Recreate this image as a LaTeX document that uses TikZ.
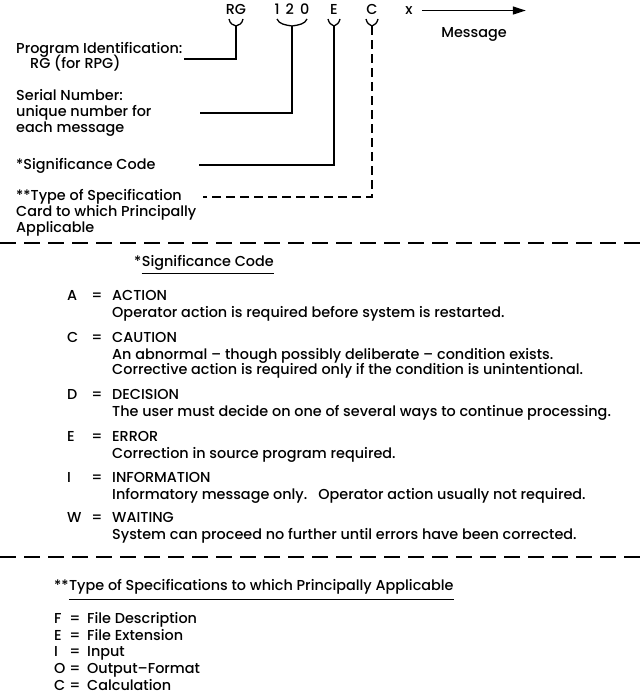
\documentclass[tikz,border=0pt]{standalone}
\usepackage{fontspec}
\setmainfont{Poppins}[UprightFont={* Medium}]
\usetikzlibrary{arrows.meta, positioning, calc}

\begin{document}
\begin{tikzpicture}[
    x=1pt, y=-1pt,
    txt/.style={inner sep=0pt, anchor=base west, font=\fontsize{14.4}{16}\selectfont},
    code/.style={inner sep=0pt, anchor=base, font=\fontsize{14.4}{16}\selectfont},
    conn/.style={line width=1.3pt},
    dconn/.style={line width=1.3pt, dash pattern=on 9pt off 5pt},
    sep/.style={line width=1.4pt, dash pattern=on 16pt off 8pt},
    arr/.style={-{Triangle[length=13pt, width=8pt]}, line width=1.3pt}
  ]
  \useasboundingbox (0,0) rectangle (642,696);

  % message code
  \node[code] (rg) at (236,14.5) {RG};
  \node[code] (num) at (292,14.5) {1\hspace{6pt}2\hspace{6pt}0};
  \node[code] (sig) at (334,14.5) {E};
  \node[code] (spec) at (372,14.5) {C};
  \node[code] (xmark) at (409,14.5) {x};
  \draw[arr] ([xshift=9pt]xmark.east) -- ++(104pt,0);
  \node[code] (msg) at (474,37) {Message};

  % braces under the code
  \draw[conn] (229,19) .. controls (230,24) and (233,25) .. (236,26) .. controls (239,25) and (242,24) .. (243,19);
  \draw[conn] (277,19) .. controls (279,24) and (285,25) .. (292,26) .. controls (299,25) and (305,24) .. (307,19);
  \draw[conn] (328,19) .. controls (329,23) and (331,25) .. (334,26) .. controls (337,25) and (339,23) .. (340,19);
  \draw[conn] (366,19) .. controls (367,23) and (369,25) .. (372,26) .. controls (375,25) and (377,23) .. (378,19);
  \coordinate (rgtip) at (236,26);
  \coordinate (numtip) at (292,26);
  \coordinate (sigtip) at (334,26);
  \coordinate (spectip) at (372,26);

  % labels
  \node[txt] (progid) at (16,53.5) {Program Identification:};
  \node[txt] (progrpg) at (30,68.5) {RG (for RPG)};
  \node[txt] (serial) at (16,100.5) {Serial Number:};
  \node[txt] (serial2) at (16,116.5) {unique number for};
  \node[txt] (serial3) at (16,132.5) {each message};
  \node[txt] (sigcode) at (16,169.5) {*Significance Code};
  \node[txt] (spectype) at (16,200.5) {**Type of Specification};
  \node[txt] (spectype2) at (16,216.5) {Card to which Principally};
  \node[txt] (spectype3) at (16,232.5) {Applicable};

  \coordinate (progend) at (184,59);
  \coordinate (serialend) at (200,113);
  \coordinate (sigend) at (199,165);
  \coordinate (specend) at (203,197);
  \draw[conn] (rgtip) |- (progend);
  \draw[conn] (numtip) |- (serialend);
  \draw[conn] (sigtip) |- (sigend);
  \draw[dconn] (spectip) |- (specend);

  \draw[sep] (0,243) -- (642,243);

  % significance codes
  \node[txt] (sigstar) at (134,266.5) {*};
  \node[txt] (sighead) at (sigstar.base east) {Significance Code};
  \draw[conn] ([yshift=-7pt]sighead.base west) -- ([yshift=-7pt]sighead.base east);

  \node[txt] (ka) at (67,300.5) {A};
  \node[code] at (97,300.5) {=};
  \node[txt] (ta) at (112,300.5) {ACTION};
  \node[txt] (da) at (112,317.5) {Operator action is required before system is restarted.};

  \node[txt] (kc) at (67,342.5) {C};
  \node[code] at (97,342.5) {=};
  \node[txt] (tc) at (112,342.5) {CAUTION};
  \node[txt] (dc) at (112,359.5) {An abnormal -- though possibly deliberate -- condition exists.};
  \node[txt] (dc2) at (112,374.5) {Corrective action is required only if the condition is unintentional.};

  \node[txt] (kd) at (67,399.5) {D};
  \node[code] at (97,399.5) {=};
  \node[txt] (td) at (112,399.5) {DECISION};
  \node[txt] (dd) at (112,416.5) {The user must decide on one of several ways to continue processing.};

  \node[txt] (ke) at (67,441.5) {E};
  \node[code] at (97,441.5) {=};
  \node[txt] (te) at (112,441.5) {ERROR};
  \node[txt] (de) at (112,458.5) {Correction in source program required.};

  \node[txt] (ki) at (67,482.5) {I};
  \node[code] at (97,482.5) {=};
  \node[txt] (ti) at (112,482.5) {INFORMATION};
  \node[txt] (di) at (112,499.5) {Informatory message only.\hspace{6pt} Operator action usually not required.};

  \node[txt] (kw) at (67,522.5) {W};
  \node[code] at (97,522.5) {=};
  \node[txt] (tw) at (112,522.5) {WAITING};
  \node[txt] (dw) at (112,539.5) {System can proceed no further until errors have been corrected.};

  \draw[sep] (0,557) -- (642,557);

  % specification types
  \node[txt] (specstar) at (54,590.5) {**};
  \node[txt] (spechead) at (specstar.base east) {Type of Specifications to which Principally Applicable};
  \draw[conn] ([yshift=-9pt]spechead.base west) -- ([yshift=-9pt]spechead.base east);

  \node[txt] (kf) at (54,623.5) {F};
  \node[code] at (75,623.5) {=};
  \node[txt] at (87,623.5) {File Description};
  \node[txt] (kx) at (54,640.5) {E};
  \node[code] at (75,640.5) {=};
  \node[txt] at (87,640.5) {File Extension};
  \node[txt] (kin) at (54,656.5) {I};
  \node[code] at (75,656.5) {=};
  \node[txt] at (87,656.5) {Input};
  \node[txt] (ko) at (54,673.5) {O};
  \node[code] at (75,673.5) {=};
  \node[txt] at (87,673.5) {Output--Format};
  \node[txt] (kcalc) at (54,690.5) {C};
  \node[code] at (75,690.5) {=};
  \node[txt] at (87,690.5) {Calculation};
\end{tikzpicture}
\end{document}
